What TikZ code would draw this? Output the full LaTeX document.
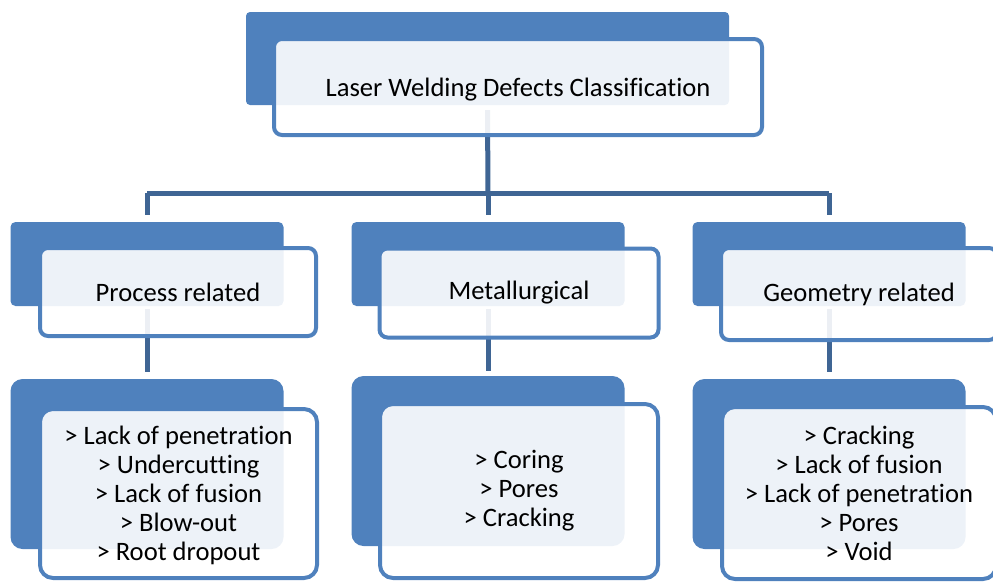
\documentclass[tikz,border=0pt]{standalone}
\usepackage{fontspec}
\setmainfont{Carlito}[RawFeature={-liga;-clig;-calt;-dlig}]
\definecolor{accblue}{HTML}{4F81BD}
\definecolor{linkblue}{HTML}{3F6594}
\begin{document}
\begin{tikzpicture}[x=1pt,y=-1pt,
  backbox/.style={rectangle, fill=accblue, draw=none, inner sep=0pt},
  frontbox/.style={rectangle, draw=accblue, line width=4pt, fill=white, fill opacity=0.9, text opacity=1, inner sep=0pt, align=center, font=\fontsize{26.6}{29}\selectfont},
  link/.style={draw=linkblue, line width=5pt}
]
\useasboundingbox (0,0) rectangle (993,584);
\clip (0,0) rectangle (993,584);
% back (filled) rectangles
\node[backbox, rounded corners=4pt, minimum width=483pt, minimum height=93pt] (tb) at (487.5,58.5) {};
\node[backbox, rounded corners=5pt, minimum width=273pt, minimum height=84pt] (mbl) at (147,264) {};
\node[backbox, rounded corners=5pt, minimum width=273pt, minimum height=84pt] (mbc) at (488,264) {};
\node[backbox, rounded corners=5pt, minimum width=273pt, minimum height=84pt] (mbr) at (829,264) {};
\node[backbox, rounded corners=12pt, minimum width=273pt, minimum height=170pt] (bbl) at (147,464) {};
\node[backbox, rounded corners=12pt, minimum width=273pt, minimum height=170pt] (bbc) at (488,461) {};
\node[backbox, rounded corners=12pt, minimum width=273pt, minimum height=170pt] (bbr) at (829,464) {};
% connectors
\coordinate (tstart) at ([yshift=-5pt]tb.south);
\coordinate (jn) at (488,193);
\coordinate (jl) at (147,193);
\coordinate (jr) at (829,193);
\draw[link] (tstart) -- (jn);
\draw[link] (jl) -- (jr);
\draw[link] (jl) -- ([yshift=7pt]mbl.north);
\draw[link] (jn) -- ([yshift=7pt]mbc.north);
\draw[link] (jr) -- ([yshift=7pt]mbr.north);
\draw[link] ([yshift=-3pt]mbl.south) -- ([yshift=7pt]bbl.north);
\draw[link] ([yshift=-3pt]mbc.south) -- ([yshift=5pt]bbc.north);
\draw[link] ([yshift=-3pt]mbr.south) -- ([yshift=7pt]bbr.north);
% front (outlined) boxes with text
\node[frontbox, rounded corners=8pt, minimum width=488pt, minimum height=96pt] (tf) at (518,87) {\raisebox{-3pt}[\height][\depth]{Laser Welding Defects Classification}};
\node[frontbox, rounded corners=8pt, minimum width=276pt, minimum height=88pt] (mfl) at (178,292) {Process related};
\node[frontbox, rounded corners=8pt, minimum width=279pt, minimum height=89pt] (mfc) at (519,293) {Metallurgical};
\node[frontbox, rounded corners=8pt, minimum width=276pt, minimum height=92pt] (mfr) at (859,294) {Geometry related};
\node[frontbox, rounded corners=13pt, minimum width=277pt, minimum height=169pt] (bfl) at (178.5,493.5) {\raisebox{-3pt}[\height][\depth]{\begin{tabular}{@{}c@{}}> Lack of penetration\\> Undercutting\\> Lack of fusion\\> Blow-out\\> Root dropout\end{tabular}}};
\node[frontbox, rounded corners=13pt, minimum width=278pt, minimum height=174pt] (bfc) at (519,491) {> Coring\\> Pores\\> Cracking};
\node[frontbox, rounded corners=13pt, minimum width=274pt, minimum height=172pt] (bfr) at (859,493) {> Cracking\\> Lack of fusion\\> Lack of penetration\\> Pores\\> Void};
\end{tikzpicture}
\end{document}
